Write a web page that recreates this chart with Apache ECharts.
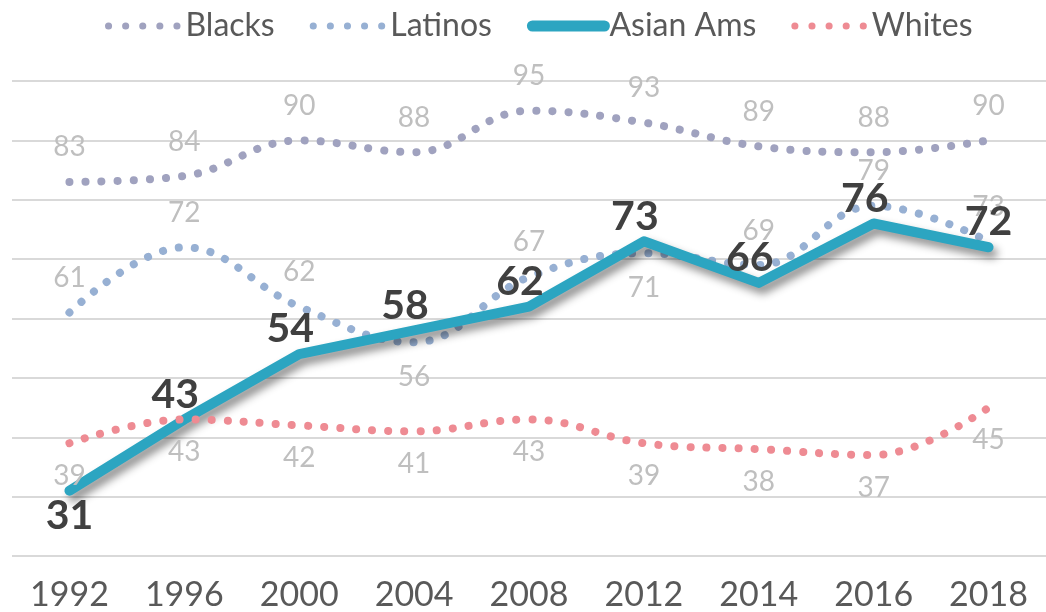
<!DOCTYPE html>
<html>
<head>
<meta charset="utf-8">
<script src="https://cdn.jsdelivr.net/npm/echarts@6/dist/echarts.min.js"></script>
<style>
  html, body { margin: 0; padding: 0; background: #fff; }
  #chart { width: 1046px; height: 612px; }
</style>
</head>
<body>
<div id="chart"></div>
<script>
const years = ["1992", "1996", "2000", "2004", "2008", "2012", "2014", "2016", "2018"];
const blacks = [83, 84, 90, 88, 95, 93, 89, 88, 90];
const latinos = [61, 72, 62, 56, 67, 71, 69, 79, 73];
const asianAms = [31, 43, 54, 58, 62, 73, 66, 76, 72];
const whites = [39, 43, 42, 41, 43, 39, 38, 37, 45];

// label placement per point (top / bottom)
const latinoLabelPos = ["top", "top", "top", "bottom", "top", "bottom", "top", "top", "top"];
const asianLabelPos = ["bottom", "top", "top", "top", "top", "top", "top", "top", "top"];

const FONT = "Lato, 'DejaVu Sans', sans-serif";
const faintLabel = { color: "#bfbfbf", fontSize: 28, fontFamily: FONT };
const hidden = { color: "rgba(0,0,0,0)" };

function dotted(color) {
  return { color: color, width: 8, type: [0.1, 16], cap: "round" };
}
const legendDots = { width: 7, type: [0.1, 17], cap: "round" };

const chart = echarts.init(document.getElementById("chart"));

const option = {
  animation: false,
  legend: {
    left: 100,
    top: 5,
    itemWidth: 72,
    itemHeight: 14,
    itemGap: 35,
    textStyle: { color: "#595959", fontSize: 32, fontFamily: FONT },
    data: [
      { name: "Blacks", lineStyle: legendDots },
      { name: "Latinos", lineStyle: legendDots },
      { name: "Asian Ams", lineStyle: { width: 11, type: "solid", cap: "round" } },
      { name: "Whites", lineStyle: legendDots },
    ],
  },
  grid: { left: 12, width: 1048, top: 81, bottom: 55 },
  xAxis: {
    type: "category",
    data: years,
    axisLine: { show: false },
    axisTick: { show: false },
    axisLabel: { color: "#595959", fontSize: 34, fontFamily: FONT, margin: 22 },
  },
  yAxis: {
    type: "value",
    min: 20,
    max: 100,
    interval: 10,
    axisLabel: { show: false },
    axisLine: { show: false },
    axisTick: { show: false },
    splitLine: { lineStyle: { color: "#d9d9d9", width: 2 } },
  },
  series: [
    {
      name: "Blacks",
      type: "line",
      data: blacks,
      smooth: 0.4,
      symbol: "circle",
      symbolSize: 1,
      itemStyle: hidden,
      lineStyle: dotted("#a0a2bf"),
      label: { show: true, position: "top", distance: 20, ...faintLabel },
    },
    {
      name: "Latinos",
      type: "line",
      data: latinos.map((v, i) => ({
        value: v,
        label: { position: latinoLabelPos[i] },
      })),
      smooth: 0.4,
      symbol: "circle",
      symbolSize: 1,
      itemStyle: hidden,
      lineStyle: dotted("#97b0d3"),
      label: { show: true, distance: 20, ...faintLabel },
    },
    {
      name: "Asian Ams",
      type: "line",
      data: asianAms.map((v, i) => ({
        value: v,
        label: {
          position: asianLabelPos[i],
          offset: i === 0 || i === asianAms.length - 1 ? [0, 0] : [-9, 0],
        },
      })),
      symbol: "circle",
      symbolSize: 1,
      itemStyle: hidden,
      z: 3,
      lineStyle: {
        color: "#2ca5c1",
        width: 10,
        cap: "round",
        join: "round",
        shadowColor: "rgba(0,0,0,0.45)",
        shadowBlur: 8,
        shadowOffsetX: 4,
        shadowOffsetY: 6,
      },
      label: {
        show: true,
        distance: 4,
        color: "#404040",
        fontSize: 41,
        fontWeight: "bold",
        fontFamily: FONT,
      },
    },
    {
      name: "Whites",
      type: "line",
      data: whites,
      smooth: 0.4,
      symbol: "circle",
      symbolSize: 1,
      itemStyle: hidden,
      z: 4,
      lineStyle: dotted("#ee8b93"),
      label: { show: true, position: "bottom", distance: 18, ...faintLabel },
    },
  ],
};

chart.setOption(option);
</script>
</body>
</html>
